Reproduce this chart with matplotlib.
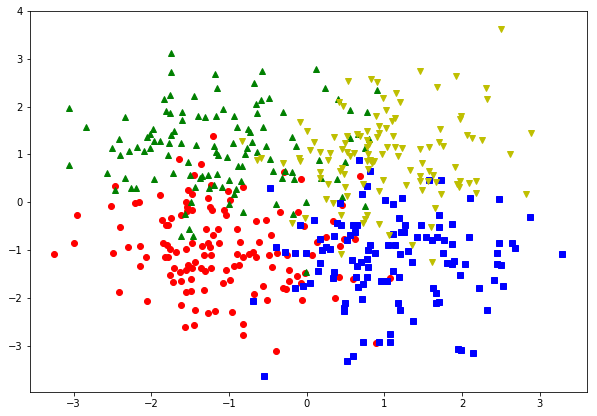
import matplotlib
matplotlib.use("Agg")
import matplotlib.pyplot as plt

# class 0 (red circles)
red_x = [-2.463,-1.884,-2.515,-2.206,-2.154,-2.952,-1.858,-1.746,-1.807,-2.399,-2.991,-2.296,-2.142,-1.846,-1.794,-1.755,
         -3.248,-2.489,-2.064,-1.820,-2.142,-1.712,-1.759,-1.717,-2.412,-2.051,-1.202,-1.640,-1.357,-1.447,-1.228,-0.816,
         -1.009,-1.524,-1.472,-1.266,-0.983,-1.550,-1.537,-1.472,-1.537,-1.241,-1.215,-1.060,-1.035,-1.614,-0.288,-0.069,
         -0.340,-0.649,-0.520,-0.108,-0.031,-1.785,-1.292,-1.138,-0.893,-1.202,-0.456,-1.472,-1.344,-1.266,-1.125,-0.855,
         -0.610,-1.550,-1.241,-1.678,-1.318,-1.228,-0.893,-0.816,-0.739,-0.687,-0.649,-0.481,-0.378,-0.250,-1.785,-1.627,
         -1.550,-1.524,-1.472,-1.434,-1.357,-1.305,-1.228,-1.035,-0.932,-0.867,-0.443,-0.224,-0.121,-1.614,-1.485,-1.073,
         -0.983,-0.224,-0.069,-0.018,-1.550,-1.485,-1.318,-0.559,-0.301,-0.263,-0.674,-0.507,-0.057,-1.614,-1.434,-1.266,
         -1.176,-0.958,-1.562,-1.447,-0.816,-0.816,-0.391,0.690,0.458,0.342,0.252,0.136,0.432,0.484,0.625,0.072,0.420,
         0.600,1.076,0.368,0.896]
red_y = [0.349,0.161,-0.069,-0.006,0.006,-0.257,-0.362,-0.320,-0.487,-0.508,-0.843,-0.927,-0.906,-0.843,-0.885,-0.983,
         -1.073,-1.052,-1.136,-1.136,-1.339,-1.366,-1.513,-1.659,-1.868,-2.056,1.395,0.900,0.789,0.579,0.356,0.328,
         0.230,0.251,0.174,0.098,0.056,0.006,-0.098,-0.161,-0.174,-0.098,-0.161,-0.161,-0.257,-0.257,0.634,0.496,
         -0.215,-0.383,-0.362,-0.195,-0.496,-0.467,-0.550,-0.550,-0.550,-0.676,-0.676,-0.843,-0.906,-0.843,-0.843,-0.822,
         -0.822,-0.969,-0.927,-1.040,-1.094,-1.098,-1.073,-1.136,-1.073,-1.040,-1.151,-1.094,-1.061,-1.094,-1.136,-1.450,
         -1.408,-1.303,-1.366,-1.241,-1.366,-1.429,-1.366,-1.408,-1.324,-1.303,-1.345,-1.408,-1.533,-1.638,-1.596,-1.680,
         -1.617,-1.638,-1.680,-1.471,-1.868,-1.847,-1.826,-1.743,-1.785,-1.805,-1.910,-2.036,-2.036,-2.140,-2.245,-2.308,
         -2.266,-2.287,-2.600,-2.559,-2.538,-2.768,-3.102,0.538,-0.048,-0.383,-0.718,-0.822,-0.906,-0.759,-0.759,-1.094,
         -1.554,-1.596,-1.575,-1.994,-2.935]

# class 1 (green triangles up)
green_x = [-1.750,-1.743,-1.755,-1.833,-3.055,-1.811,-1.755,-2.335,-2.837,-1.974,-2.013,-2.051,-1.743,-2.412,-1.884,-1.961,
           -1.768,-2.502,-2.180,-2.013,-2.090,-2.281,-2.399,-1.781,-3.055,-2.566,-2.335,-1.961,-1.723,-2.463,-2.257,-2.193,
           -1.176,-0.571,-0.674,-1.151,-1.447,-0.481,-0.584,-0.649,-1.073,-0.301,-1.601,-1.395,-1.305,-1.163,-0.932,-0.636,
           -1.601,-0.893,-0.752,-0.726,-0.559,-1.704,-0.185,-1.614,-1.421,-0.945,-0.700,-0.520,-0.134,-1.189,-0.764,-1.163,
           -1.145,-1.022,-0.790,-0.636,-0.468,-1.524,-1.498,-1.369,-1.344,-1.266,-1.151,-0.996,-0.884,-0.829,-0.842,-0.430,
           -0.275,-0.185,-0.314,-0.160,-1.434,-1.254,-1.189,-1.090,-0.914,-0.932,-1.485,-0.996,-0.816,-0.391,-0.172,-0.005,
           -1.562,-1.511,-1.614,-1.459,-0.009,0.124,0.239,0.407,0.561,0.780,0.909,0.561,0.664,0.806,0.754,0.162,0.497,
           0.188,0.394,0.458,0.754]
green_y = [3.111,2.726,2.253,2.149,1.973,1.910,1.856,1.785,1.575,1.542,1.437,1.366,1.402,1.312,1.282,1.282,
           1.249,1.144,1.157,1.144,1.067,1.067,0.983,0.983,0.774,0.607,0.508,0.496,0.613,0.257,0.287,0.287,
           2.692,2.747,2.504,2.391,2.232,2.190,2.128,2.065,1.960,1.897,1.897,1.814,1.785,1.814,1.814,1.856,
           1.730,1.563,1.533,1.479,1.563,1.492,1.354,1.249,1.207,1.249,1.270,1.186,1.186,1.186,1.144,1.052,
           0.998,0.941,1.019,1.052,0.914,0.843,0.579,0.517,0.550,0.579,0.592,0.475,0.759,0.759,0.454,0.663,
           0.649,0.634,0.517,0.487,0.328,0.299,0.356,0.314,0.272,0.174,0.006,-0.036,-0.203,-0.036,-0.245,0.006,
           -0.245,-0.565,-0.705,-0.705,-1.450,2.797,2.379,2.149,1.939,1.877,2.337,1.333,1.437,1.312,1.144,0.885,0.831,
           0.517,0.487,0.119,-0.069]

# class 2 (blue squares)
blue_x = [-0.468,-0.082,0.094,-0.391,-0.275,-0.147,-0.009,-0.147,-0.044,0.042,-0.687,-0.546,0.677,0.819,0.780,0.716,
          0.432,1.012,1.115,1.230,1.578,1.732,0.394,0.445,1.192,1.269,1.707,1.475,1.707,1.870,0.600,0.651,
          0.625,0.561,0.355,0.175,0.523,1.115,1.218,1.256,1.423,1.539,1.616,1.681,1.771,1.870,0.819,1.050,
          1.140,0.252,0.201,0.304,0.793,0.883,1.205,1.308,1.758,1.810,1.870,1.900,0.587,0.703,0.780,0.651,
          0.793,0.175,0.149,0.355,0.342,0.638,0.780,0.728,0.664,0.960,1.037,1.115,1.192,1.359,0.716,0.497,
          0.484,0.484,1.179,1.205,1.629,1.668,1.668,1.707,1.372,1.076,1.076,0.934,0.728,0.600,0.523,2.106,
          2.479,2.878,2.093,2.479,2.646,2.685,2.453,3.290,2.041,2.453,2.505,1.977,2.414,2.530,2.221,2.324,
          1.951,1.990,2.144]
blue_y = [0.287,-0.467,-0.362,-0.927,-1.036,-1.067,-1.052,-1.785,-1.743,-1.680,-2.056,-3.626,0.893,0.663,0.349,0.182,
          -0.006,0.056,-0.036,0.098,0.475,0.475,-0.425,-0.487,-0.320,-0.467,-0.257,-0.467,-0.508,-0.446,-0.487,-0.487,
          -0.613,-0.676,-0.697,-0.759,-0.780,-0.655,-0.613,-0.613,-0.738,-0.718,-0.780,-0.738,-0.780,-0.864,-0.885,-0.885,
          -0.885,-0.927,-0.990,-0.969,-1.010,-1.067,-1.088,-1.025,-1.067,-1.262,-1.297,-1.220,-1.199,-1.241,-1.178,-1.324,
          -1.345,-1.262,-1.429,-1.450,-1.575,-1.554,-1.554,-1.701,-1.764,-1.638,-1.638,-1.429,-1.554,-1.241,-2.015,-2.098,
          -2.203,-2.266,-2.098,-2.245,-1.785,-1.889,-2.098,-2.077,-2.475,-2.747,-2.914,-2.914,-2.914,-3.207,-3.312,0.098,
          0.077,-0.299,-0.738,-0.843,-0.843,-0.962,-1.052,-1.088,-1.282,-1.282,-1.303,-1.513,-1.617,-1.743,-1.785,-2.245,
          -3.061,-3.082,-3.144]

# class 3 (yellow triangles down)
yellow_x = [-0.082,0.008,-0.829,0.046,0.088,-0.636,-0.584,-0.301,-0.095,-0.082,-0.185,-0.018,1.462,0.535,0.831,0.909,
            1.681,1.153,0.986,1.205,0.420,0.471,1.024,0.896,1.140,1.102,0.934,1.024,1.719,0.780,0.934,1.115,
            0.355,0.523,0.651,0.690,0.909,0.780,0.497,0.806,1.707,0.175,0.304,0.458,0.523,0.613,0.561,0.793,
            0.780,0.973,1.037,1.140,1.230,1.179,1.462,1.578,1.758,0.278,0.780,0.819,0.870,0.793,0.844,1.488,
            1.333,1.578,1.462,1.629,1.462,1.565,1.668,0.175,0.175,0.458,0.432,0.484,0.986,0.278,0.728,0.497,
            0.934,1.282,1.488,1.732,0.252,0.342,0.523,0.445,0.780,0.754,1.655,0.728,0.934,1.604,1.063,1.359,
            0.445,1.616,2.505,1.925,2.311,2.324,1.990,1.977,2.067,2.131,2.260,2.891,2.620,1.913,1.938,1.977,
            1.964,2.093,2.183,2.183,2.826]
yellow_y = [1.680,1.492,1.282,1.088,1.255,0.885,0.927,0.810,0.927,0.864,-0.433,-0.328,2.741,2.531,2.573,2.510,
            2.406,2.280,2.190,2.092,2.086,2.023,1.925,1.814,1.772,1.695,1.590,1.548,1.527,1.500,1.458,1.381,
            1.360,1.381,1.423,1.381,1.360,1.297,1.234,1.228,1.270,1.052,1.031,1.109,1.056,1.031,0.969,1.019,
            1.157,1.019,1.157,1.157,1.136,0.969,1.109,1.157,1.172,0.885,0.872,0.885,0.872,0.705,0.810,0.822,
            0.676,0.655,0.538,0.571,0.454,0.454,0.433,0.634,0.517,0.718,0.663,0.586,0.467,0.391,0.391,0.308,
            0.245,0.356,0.266,0.182,0.077,-0.006,0.140,-0.257,-0.257,-0.341,-0.111,-0.425,-0.454,-0.508,-0.676,-0.885,
            -1.077,-1.241,3.619,2.636,2.385,2.155,1.805,1.736,1.408,1.345,1.303,1.450,1.010,0.732,0.383,0.454,
            0.314,0.404,0.454,0.195,0.174]

x_ticks = [-3, -2, -1, 0, 1, 2, 3]
y_ticks = [-3, -2, -1, 0, 1, 2, 3, 4]

fig = plt.figure(figsize=(597/72, 416/72), dpi=72)
ax = fig.add_axes([30/597, 24/416, 557.3/597, 381/416])
ax.plot(red_x, red_y, 'ro')
ax.plot(green_x, green_y, 'g^')
ax.plot(blue_x, blue_y, 'bs')
ax.plot(yellow_x, yellow_y, 'yv')
ax.set_xlim(-3.56, 3.61)
ax.set_ylim(-3.97, 4.0)
ax.set_xticks(x_ticks)
ax.set_yticks(y_ticks)
ax.tick_params(labelsize=10)
fig.savefig("out.png", dpi=72)
